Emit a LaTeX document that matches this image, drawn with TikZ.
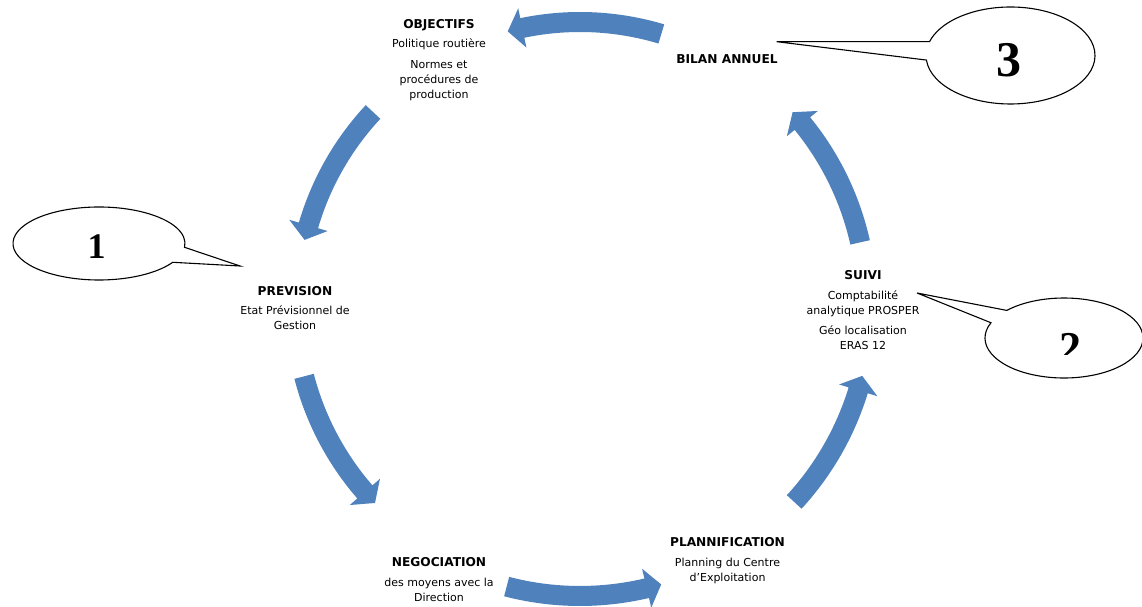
\documentclass[tikz,border=0pt]{standalone}
\usepackage{fontspec}
\setmainfont{DejaVu Sans}
\newfontfamily\numfont{Liberation Serif}
\definecolor{arrowblue}{HTML}{4F81BD}
\tikzset{
  cyc/.style={fill=arrowblue},
  lbl/.style={anchor=north, inner sep=0pt, align=center, font=\fontsize{11}{15}\selectfont},
  callout/.style={draw=black, fill=white, line width=1.1pt, line join=miter},
  num/.style={anchor=north, inner sep=0pt},
}
\newcommand\hd[1]{{\fontsize{12.2}{15}\selectfont\bfseries #1}}
\newcommand\cycarrow[3]{%
  \pgfmathsetmacro\cyHa{#2-15/#3*180/3.14159}%
  \pgfmathsetmacro\cyRo{#3+10}\pgfmathsetmacro\cyRi{#3-10}%
  \pgfmathsetmacro\cyWo{#3+20}\pgfmathsetmacro\cyWi{#3-20}%
  \fill[cyc, shift={(C)}] (#1:\cyRo) arc[start angle=#1, end angle=\cyHa, radius=\cyRo]
    -- (\cyHa:\cyWo) -- (#2:#3) -- (\cyHa:\cyWi) -- (\cyHa:\cyRi)
    arc[start angle=\cyHa, end angle=#1, radius=\cyRi] -- cycle;}
\begin{document}
\begin{tikzpicture}[x=1pt, y=1pt]
\useasboundingbox (0,0) rectangle (1142,607);
\clip (0,0) rectangle (1142,607);
\fill[white] (0,0) rectangle (1142,607);
\coordinate (C) at (580,302);
% cycle arrows
\cycarrow{73.3}{104.8}{283}
\cycarrow{137}{166.7}{283}
\cycarrow{194.5}{224}{285}
\cycarrow{255.4}{286.2}{291}
\cycarrow{317.4}{345.9}{291}
\cycarrow{12.6}{42.2}{287}
% callouts
\coordinate (e1) at (99,363.5);
\coordinate (t1) at (240,341);
\draw[callout, shift={(e1)}] (-6:86 and 36.5) -- (t1) -- (-31:86 and 36.5)
  arc[start angle=-31, end angle=-366, x radius=86, y radius=36.5] -- cycle;
\coordinate (e3) at (1010.5,551.5);
\coordinate (t3) at (776.7,565.3);
\draw[callout, shift={(e3)}] (163.4:84.5 and 48.5) -- (t3) -- (185.4:84.5 and 48.5)
  arc[start angle=185.4, end angle=523.4, x radius=84.5, y radius=48.5] -- cycle;
\coordinate (e2) at (1064,269);
\coordinate (t2) at (917,314);
\draw[callout, shift={(e2)}] (136.4:79 and 40) -- (t2) -- (157.6:79 and 40)
  arc[start angle=157.6, end angle=496.4, x radius=79, y radius=40] -- cycle;
% numbers
\node[num, font=\numfont\bfseries\fontsize{36}{36}\selectfont] (n1) at (96.7,372) {1};
\node[num, font=\numfont\bfseries\fontsize{50}{50}\selectfont] (n3) at (1009,563.7) {3};
\begin{scope}
  \clip (1000,252) rectangle (1142,300);
  \node[num, font=\numfont\bfseries\fontsize{44}{44}\selectfont] (n2) at (1070,274) {2};
\end{scope}
% labels
\node[lbl] (obj) at (439,588) {\hd{OBJECTIFS}\\[4.5pt] Politique routière\\[5.5pt] Normes et\\ procédures de\\ production};
\node[lbl] (bil) at (727,552.7) {\hd{BILAN ANNUEL}};
\node[lbl] (prev) at (295,321) {\hd{PREVISION}\\[4.5pt] Etat Prévisionnel de\\ Gestion};
\node[lbl] (suivi) at (863,336.3) {\hd{SUIVI}\\[4.5pt] Comptabilité\\ analytique PROSPER\\[5.5pt] Géo localisation\\ ERAS 12};
\node[lbl] (nego) at (439,49.7) {\hd{NEGOCIATION}\\[4.5pt] des moyens avec la\\ Direction};
\node[lbl] (plan) at (727.5,69.7) {\hd{PLANNIFICATION}\\[4.5pt] Planning du Centre\\ d’Exploitation};
\end{tikzpicture}
\end{document}
